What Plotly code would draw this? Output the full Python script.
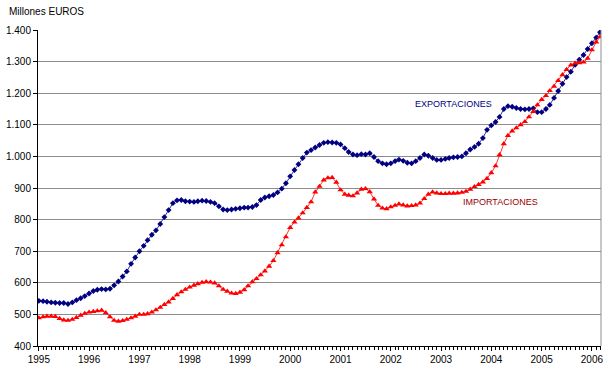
import plotly.graph_objects as go
import pandas as pd

# Monthly values (Millones EUROS), Jan 1995 - Mar 2006
exportaciones = [
    543, 542, 540, 538, 537, 536, 536, 533, 538, 545, 551, 558,            # 1995
    566, 574, 578, 580, 579, 581, 592, 604, 620, 636, 660, 680,            # 1996
    700, 717, 735, 752, 766, 786, 808, 830, 852, 861, 862, 858,            # 1997
    857, 856, 858, 860, 859, 856, 852, 842, 832, 830, 832, 834,            # 1998
    836, 838, 838, 840, 846, 862, 870, 874, 878, 886, 898, 915,            # 1999
    937, 957, 975, 995, 1012, 1020, 1028, 1036, 1043, 1045, 1044, 1043,    # 2000
    1038, 1026, 1014, 1006, 1004, 1007, 1006, 1010, 998, 985, 978, 975,    # 2001
    978, 985, 990, 986, 980, 978, 985, 995, 1006, 1002, 995, 989,          # 2002
    989, 992, 995, 997, 998, 1000, 1010, 1022, 1030, 1040, 1058, 1084,     # 2003
    1098, 1109, 1125, 1150, 1159, 1157, 1153, 1150, 1149, 1150, 1152, 1140,  # 2004
    1140, 1150, 1163, 1185, 1207, 1230, 1251, 1268, 1290, 1306, 1321, 1340,  # 2005
    1358, 1376, 1393,                                                      # 2006
]
importaciones = [
    489, 492, 494, 494, 493, 487, 482, 481, 484, 490, 497, 503,            # 1995
    507, 509, 511, 513, 505, 492, 481, 478, 480, 484, 489, 494,            # 1996
    500, 500, 502, 507, 514, 522, 531, 539, 550, 562, 571, 579,            # 1997
    586, 592, 597, 601, 603, 602, 599, 590, 579, 573, 567, 566,            # 1998
    570, 578, 590, 603, 613, 625, 637, 652, 670, 695, 720, 745,            # 1999
    775, 792, 805, 821, 838, 856, 887, 905, 925, 932, 933, 918,            # 2000
    894, 880, 877, 875, 884, 896, 898, 888, 865, 845, 836, 834,            # 2001
    840, 845, 849, 846, 843, 844, 846, 852, 866, 880, 887, 884,            # 2002
    882, 882, 883, 883, 884, 886, 889, 896, 904, 911, 919, 930,            # 2003
    948, 970, 1005, 1040, 1066, 1080, 1090, 1100, 1110, 1125, 1142, 1163,  # 2004
    1180, 1192, 1208, 1222, 1240, 1258, 1275, 1289, 1295, 1296, 1298, 1310,  # 2005
    1337, 1362, 1378,                                                      # 2006
]
months = pd.date_range("1995-01-01", periods=len(exportaciones), freq="MS")

y_tickvals = [400, 500, 600, 700, 800, 900, 1000, 1100, 1200, 1300, 1400]
y_ticktext = ["400", "500", "600", "700", "800", "900", "1.000", "1.100", "1.200", "1.300", "1.400"]

NAVY = "#000080"
RED = "#FF0000"
FONT = "Liberation Sans, Arial, sans-serif"

fig = go.Figure()
fig.add_trace(go.Scatter(
    x=months, y=exportaciones, mode="lines+markers", name="EXPORTACIONES",
    line=dict(color=NAVY, width=0.8),
    marker=dict(symbol="diamond", size=4.5, color=NAVY),
))
fig.add_trace(go.Scatter(
    x=months, y=importaciones, mode="lines+markers", name="IMPORTACIONES",
    line=dict(color=RED, width=0.8),
    marker=dict(symbol="triangle-up", size=5.5, color=RED),
))

fig.update_layout(
    width=605, height=374,
    margin=dict(l=38, r=4, t=30, b=28),
    paper_bgcolor="white", plot_bgcolor="white",
    showlegend=False,
    font=dict(family=FONT, size=10, color="black"),
    xaxis=dict(
        type="date",
        range=["1994-12-26", "2006-03-08"],
        tickformat="%Y", dtick="M12", tick0="1995-01-01",
        ticks="outside", ticklen=4, tickcolor="black",
        showline=True, linecolor="black", linewidth=1,
        showgrid=False, zeroline=False,
        minor=dict(dtick="M1", tick0="1995-01-01", ticks="outside", ticklen=3, tickcolor="black", showgrid=False),
        tickfont=dict(size=10, family=FONT),
        automargin=False,
    ),
    yaxis=dict(
        range=[400, 1400],
        tickvals=y_tickvals, ticktext=y_ticktext,
        ticks="outside", ticklen=4, tickcolor="black",
        showline=True, linecolor="black", linewidth=1,
        showgrid=True, gridcolor="#8c8c8c", gridwidth=1,
        zeroline=False,
        tickfont=dict(size=10, family=FONT),
        automargin=False,
    ),
    shapes=[dict(type="line", xref="paper", yref="paper", x0=1, x1=1, y0=0, y1=1,
                 line=dict(color="#8c8c8c", width=1))],
    annotations=[
        dict(text="Millones EUROS", xref="paper", yref="paper", x=-0.055, y=1.057,
             xanchor="left", yanchor="middle", showarrow=False,
             font=dict(size=10, family=FONT, color="black")),
        dict(text="EXPORTACIONES", xref="x", yref="y", x="2003-04-01", y=1166,
             xanchor="center", yanchor="middle", showarrow=False,
             font=dict(size=9, family=FONT, color=NAVY)),
        dict(text="IMPORTACIONES", xref="x", yref="y", x="2004-03-10", y=856,
             xanchor="center", yanchor="middle", showarrow=False,
             font=dict(size=9, family=FONT, color="#990000")),
    ],
)

fig.write_html(
    "out.html",
    config={"displayModeBar": False},
    post_script="document.body.style.margin='0';document.body.style.padding='0';document.body.style.overflow='hidden';",
)
